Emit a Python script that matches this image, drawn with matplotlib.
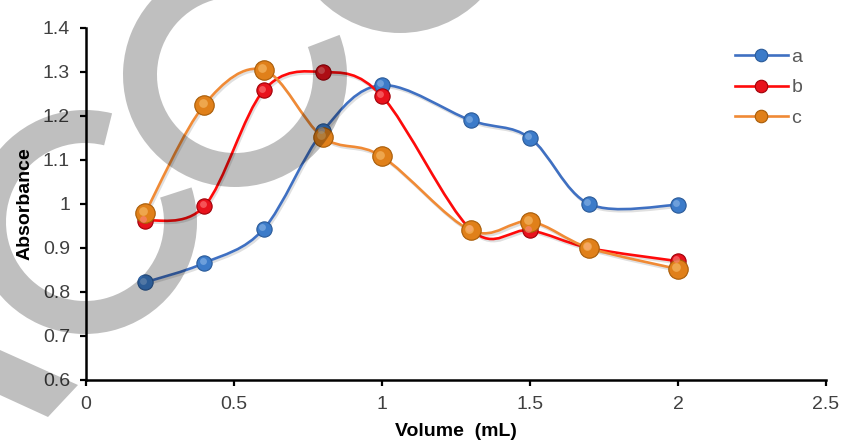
import numpy as np
import matplotlib
matplotlib.use('Agg')
import matplotlib.pyplot as plt
from matplotlib.path import Path
from matplotlib.patches import PathPatch, Wedge, Polygon
from matplotlib.lines import Line2D
from matplotlib.ticker import FuncFormatter
from matplotlib.transforms import offset_copy
import matplotlib.patheffects as pe

# 数据
volume = [0.2, 0.4, 0.6, 0.8, 1.0, 1.3, 1.5, 1.7, 2.0]
abs_a = [0.822, 0.866, 0.943, 1.165, 1.270, 1.190, 1.150, 1.000, 0.998]
abs_b = [0.962, 0.995, 1.258, 1.300, 1.245, 0.942, 0.940, 0.900, 0.870]
abs_c = [0.980, 1.226, 1.305, 1.152, 1.108, 0.940, 0.960, 0.900, 0.852]
labels = ['a', 'b', 'c']

x_ticks = [0, 0.5, 1, 1.5, 2, 2.5]
y_ticks = [0.6, 0.7, 0.8, 0.9, 1.0, 1.1, 1.2, 1.3, 1.4]

plt.rcParams['font.family'] = ['Liberation Sans', 'DejaVu Sans']

# (线色, 点色, 点边色, 高光色, 点大小)
styles = [('#3F70C2', '#3C7BC9', '#2A5A98', '#8FB8E8', 11),
          ('#FF0A0A', '#E8121C', '#A00008', '#FF8080', 11),
          ('#F08A35', '#E0801A', '#A85C08', '#F8C070', 14)]


def smooth_path(xs, ys):
    # Excel 式平滑：Catmull-Rom 转三次贝塞尔
    pts = np.column_stack([xs, ys])
    n = len(pts)
    verts = [pts[0]]
    codes = [Path.MOVETO]
    for i in range(n - 1):
        p0 = pts[i - 1] if i > 0 else pts[i]
        p1 = pts[i]
        p2 = pts[i + 1]
        p3 = pts[i + 2] if i + 2 < n else pts[i + 1]
        c1 = p1 + (p2 - p0) / 6.0
        c2 = p2 - (p3 - p1) / 6.0
        verts += [c1, c2, p2]
        codes += [Path.CURVE4] * 3
    return Path(verts, codes)


fig = plt.figure(figsize=(8.42, 4.41), dpi=100)
ax = fig.add_axes([86 / 842, 61 / 441, 740 / 842, 352 / 441])

shadow = [pe.SimpleLineShadow(offset=(1.0, -1.5), alpha=0.12), pe.Normal()]
for ys, (lc, mc, ec, hc, ms), lab in zip([abs_a, abs_b, abs_c], styles, labels):
    patch = PathPatch(smooth_path(volume, ys), facecolor='none', edgecolor=lc, lw=1.9,
                      zorder=2, path_effects=shadow)
    ax.add_patch(patch)
    ax.plot(volume, ys, 'o', ms=ms, mfc=mc, mec=ec, mew=0.8, zorder=3)
    hl = offset_copy(ax.transData, fig=fig, x=-1.3, y=1.3, units='points')
    ax.plot(volume, ys, 'o', ms=ms * 0.45, mfc=hc, mec='none', alpha=0.6, zorder=4, transform=hl)

ax.set_xlim(0, 2.5)
ax.set_ylim(0.6, 1.4)
ax.set_xticks(x_ticks)
ax.set_yticks(y_ticks)
fmt = FuncFormatter(lambda v, p: '%g' % round(v, 2))
ax.xaxis.set_major_formatter(fmt)
ax.yaxis.set_major_formatter(fmt)
for s in ['top', 'right']:
    ax.spines[s].set_visible(False)
for s in ['left', 'bottom']:
    ax.spines[s].set_linewidth(1.8)
ax.tick_params(direction='out', length=4.5, width=1.6, labelsize=14, labelcolor='#404040', pad=7)
ax.set_xlabel('Volume  (mL)', fontsize=14, fontweight='bold', labelpad=7)
ax.set_ylabel('Absorbance', fontsize=14, fontweight='bold', labelpad=7)

handles = [Line2D([], [], color=st[0], lw=1.9, marker='o', ms=9, mfc=st[1], mec=st[2], mew=0.8)
           for st in styles]
leg = ax.legend(handles, labels, loc='upper left', bbox_to_anchor=(735 / 842, 1 - 48 / 441),
                bbox_transform=fig.transFigure, frameon=False, fontsize=14, handlelength=2.7,
                handletextpad=0.2, labelspacing=0.68, borderpad=0, borderaxespad=0)
for t in leg.get_texts():
    t.set_color('#595959')

# 灰色水印
wm = fig.add_axes([0, 0, 1, 1], zorder=10)
wm.set_xlim(0, 842)
wm.set_ylim(0, 441)
wm.axis('off')
wm.patch.set_alpha(0)
grey = dict(facecolor='black', edgecolor='none', alpha=0.25)
wm.add_patch(Wedge((85, 441 - 222), 112, 76, 378, width=33, **grey))
wm.add_patch(Wedge((235, 441 - 75), 112, 84, 381, width=34, **grey))
wm.add_patch(Wedge((400, 441 + 80), 113, 180, 360, width=33, **grey))
wm.add_patch(Polygon([(0, 441 - 350), (78, 441 - 385), (48, 441 - 417), (0, 441 - 395)], closed=True, **grey))

fig.savefig('out.png', dpi=100)
